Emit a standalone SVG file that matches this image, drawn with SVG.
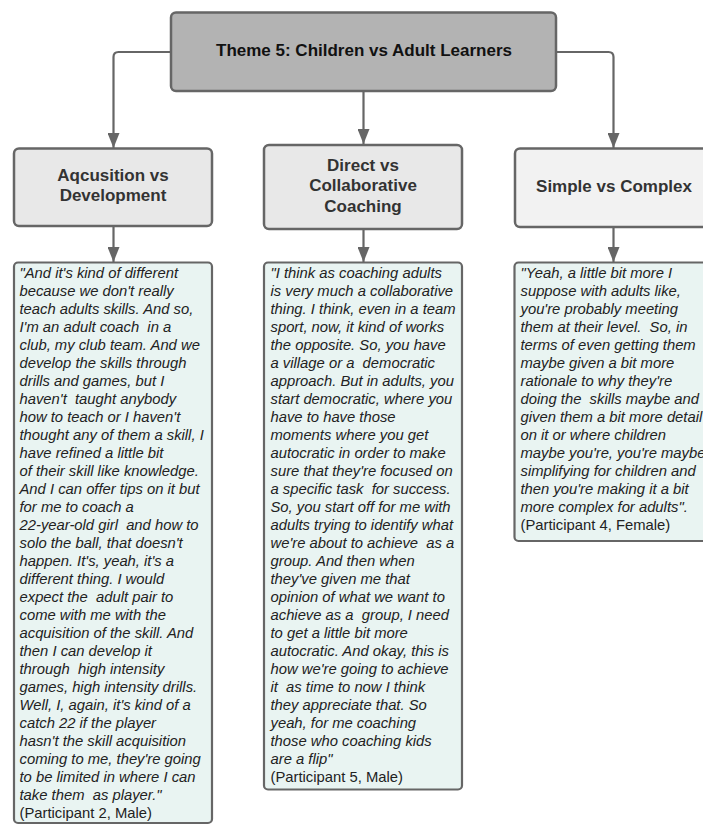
<svg xmlns="http://www.w3.org/2000/svg" width="703" height="826" viewBox="0 0 703 826">
  <style>
    .box { stroke: #666666; stroke-width: 2.5; }
    .title-box { fill: #b3b3b3; }
    .head-box { fill: #e8e8e8; }
    .head-box-light { fill: #f2f2f2; }
    .quote-box { fill: #e9f4f2; stroke: #666666; stroke-width: 2.2; }
    .title { font-family: "Liberation Sans", Arial, sans-serif; font-weight: bold; font-size: 17px; fill: #111111; text-anchor: middle; }
    .head { font-family: "Liberation Sans", Arial, sans-serif; font-weight: bold; font-size: 17px; fill: #333333; text-anchor: middle; }
    .quote { font-family: "Liberation Sans", Arial, sans-serif; font-style: italic; font-size: 14.8px; fill: #222222; white-space: pre; }
    .who { font-style: normal; }
    .link { fill: none; stroke: #666666; stroke-width: 2.2; marker-end: url(#arrow); }
  </style>
  <defs>
    <marker id="arrow" viewBox="0 0 15 12" refX="15" refY="6" markerWidth="15" markerHeight="12" markerUnits="userSpaceOnUse" orient="auto">
      <path d="M0,0 L15,6 L0,12 z" fill="#666666"/>
    </marker>
  </defs>

  <rect width="703" height="826" fill="#ffffff"/>

  <!-- connectors -->
  <g id="connectors">
    <path class="link" d="M171,52 H118.5 Q113.5,52 113.5,57 V148"/>
    <path class="link" d="M363.5,91 V144"/>
    <path class="link" d="M556,52 H608.5 Q613.5,52 613.5,57 V148"/>
    <path class="link" d="M113.5,226 V262"/>
    <path class="link" d="M363.5,229 V262"/>
    <path class="link" d="M613.5,227 V262"/>
  </g>

  <!-- theme -->
  <g id="theme">
    <rect class="box title-box" x="171" y="12.5" width="385" height="78.5" rx="5"/>
    <text class="title" x="364" y="56">Theme 5: Children vs Adult Learners</text>
  </g>

  <!-- sub-themes -->
  <g id="acquisition">
    <rect class="box head-box" x="14" y="148.5" width="198" height="77.5" rx="5"/>
    <text class="head" x="113" y="181">Aqcusition vs<tspan x="113" dy="20.4">Development</tspan></text>
  </g>

  <g id="direct">
    <rect class="box head-box" x="264" y="145" width="198" height="84" rx="5"/>
    <text class="head" x="363" y="171">Direct vs<tspan x="363" dy="20.4">Collaborative</tspan><tspan x="363" dy="20.4">Coaching</tspan></text>
  </g>

  <g id="simple">
    <rect class="box head-box-light" x="515" y="148.5" width="198" height="78.5" rx="5"/>
    <text class="head" x="614" y="192">Simple vs Complex</text>
  </g>

  <!-- participant quotes -->
  <g id="quote-p2">
    <rect class="quote-box" x="14" y="262.5" width="198" height="560.5" rx="4"/>
    <text class="quote" x="19.5" y="278"><tspan x="19.5">"And it's kind of different</tspan><tspan x="19.5" dy="18">because we don't really</tspan><tspan x="19.5" dy="18">teach adults skills. And so,</tspan><tspan x="19.5" dy="18">I'm an adult coach  in a</tspan><tspan x="19.5" dy="18">club, my club team. And we</tspan><tspan x="19.5" dy="18">develop the skills through</tspan><tspan x="19.5" dy="18">drills and games, but I</tspan><tspan x="19.5" dy="18">haven't  taught anybody</tspan><tspan x="19.5" dy="18">how to teach or I haven't</tspan><tspan x="19.5" dy="18">thought any of them a skill, I</tspan><tspan x="19.5" dy="18">have refined a little bit</tspan><tspan x="19.5" dy="18">of their skill like knowledge.</tspan><tspan x="19.5" dy="18">And I can offer tips on it but</tspan><tspan x="19.5" dy="18">for me to coach a</tspan><tspan x="19.5" dy="18">22-year-old girl  and how to</tspan><tspan x="19.5" dy="18">solo the ball, that doesn't</tspan><tspan x="19.5" dy="18">happen. It's, yeah, it's a</tspan><tspan x="19.5" dy="18">different thing. I would</tspan><tspan x="19.5" dy="18">expect the  adult pair to</tspan><tspan x="19.5" dy="18">come with me with the</tspan><tspan x="19.5" dy="18">acquisition of the skill. And</tspan><tspan x="19.5" dy="18">then I can develop it</tspan><tspan x="19.5" dy="18">through  high intensity</tspan><tspan x="19.5" dy="18">games, high intensity drills.</tspan><tspan x="19.5" dy="18">Well, I, again, it's kind of a</tspan><tspan x="19.5" dy="18">catch 22 if the player</tspan><tspan x="19.5" dy="18">hasn't the skill acquisition</tspan><tspan x="19.5" dy="18">coming to me, they're going</tspan><tspan x="19.5" dy="18">to be limited in where I can</tspan><tspan x="19.5" dy="18">take them  as player."</tspan><tspan class="who" x="19.5" dy="18">(Participant 2, Male)</tspan></text>
  </g>

  <g id="quote-p5">
    <rect class="quote-box" x="264" y="262.5" width="198" height="527" rx="4"/>
    <text class="quote" x="270.5" y="278"><tspan x="270.5">"I think as coaching adults</tspan><tspan x="270.5" dy="18">is very much a collaborative</tspan><tspan x="270.5" dy="18">thing. I think, even in a team</tspan><tspan x="270.5" dy="18">sport, now, it kind of works</tspan><tspan x="270.5" dy="18">the opposite. So, you have</tspan><tspan x="270.5" dy="18">a village or a  democratic</tspan><tspan x="270.5" dy="18">approach. But in adults, you</tspan><tspan x="270.5" dy="18">start democratic, where you</tspan><tspan x="270.5" dy="18">have to have those</tspan><tspan x="270.5" dy="18">moments where you get</tspan><tspan x="270.5" dy="18">autocratic in order to make</tspan><tspan x="270.5" dy="18">sure that they're focused on</tspan><tspan x="270.5" dy="18">a specific task  for success.</tspan><tspan x="270.5" dy="18">So, you start off for me with</tspan><tspan x="270.5" dy="18">adults trying to identify what</tspan><tspan x="270.5" dy="18">we're about to achieve  as a</tspan><tspan x="270.5" dy="18">group. And then when</tspan><tspan x="270.5" dy="18">they've given me that</tspan><tspan x="270.5" dy="18">opinion of what we want to</tspan><tspan x="270.5" dy="18">achieve as a  group, I need</tspan><tspan x="270.5" dy="18">to get a little bit more</tspan><tspan x="270.5" dy="18">autocratic. And okay, this is</tspan><tspan x="270.5" dy="18">how we're going to achieve</tspan><tspan x="270.5" dy="18">it  as time to now I think</tspan><tspan x="270.5" dy="18">they appreciate that. So</tspan><tspan x="270.5" dy="18">yeah, for me coaching</tspan><tspan x="270.5" dy="18">those who coaching kids</tspan><tspan x="270.5" dy="18">are a flip"</tspan><tspan class="who" x="270.5" dy="18">(Participant 5, Male)</tspan></text>
  </g>

  <g id="quote-p4">
    <rect class="quote-box" x="514.5" y="262.5" width="198" height="278.5" rx="4"/>
    <text class="quote" x="520.5" y="278"><tspan x="520.5">"Yeah, a little bit more I</tspan><tspan x="520.5" dy="18">suppose with adults like,</tspan><tspan x="520.5" dy="18">you're probably meeting</tspan><tspan x="520.5" dy="18">them at their level.  So, in</tspan><tspan x="520.5" dy="18">terms of even getting them</tspan><tspan x="520.5" dy="18">maybe given a bit more</tspan><tspan x="520.5" dy="18">rationale to why they're</tspan><tspan x="520.5" dy="18">doing the  skills maybe and</tspan><tspan x="520.5" dy="18">given them a bit more detail</tspan><tspan x="520.5" dy="18">on it or where children</tspan><tspan x="520.5" dy="18">maybe you're, you're maybe</tspan><tspan x="520.5" dy="18">simplifying for children and</tspan><tspan x="520.5" dy="18">then you're making it a bit</tspan><tspan x="520.5" dy="18">more complex for adults".</tspan><tspan class="who" x="520.5" dy="18">(Participant 4, Female)</tspan></text>
  </g>
</svg>
